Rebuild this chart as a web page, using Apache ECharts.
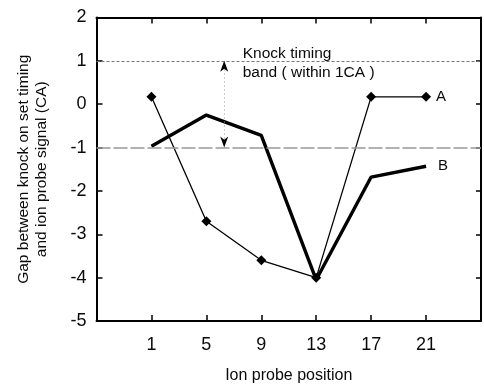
<!DOCTYPE html>
<html>
<head>
<meta charset="utf-8">
<script src="https://cdn.jsdelivr.net/npm/echarts@6/dist/echarts.min.js"></script>
<style>
  html, body { margin: 0; padding: 0; background: #fff; }
  #chart { width: 484px; height: 389px; }
</style>
</head>
<body>
<div id="chart"></div>
<script>
// Ion probe positions along the cylinder
const positions = [1, 5, 9, 13, 17, 21];
// Gap between knock on set timing and ion probe signal (CA)
const seriesA = [0.17, -2.7, -3.6, -4.0, 0.17, 0.17];
const seriesB = [-0.97, -0.25, -0.72, -4.05, -1.68, -1.43];
// Knock timing band limits (within 1 CA)
const bandLimits = [1, -1];
// Where the band arrow and its caption sit
const bandArrowX = 6.3;
const bandCaptionAt = [7.65, 0.95];
const bandCaption = 'Knock timing\nband ( within 1CA )';

const FONT = 'Liberation Sans';
const INK = '#0a0a0a';
const arrowUp = 'path://M5,0 L10,12 L5,8.5 L0,12 Z';
const arrowDown = 'path://M5,12 L10,0 L5,3.5 L0,0 Z';

const chart = echarts.init(document.getElementById('chart'), null, { renderer: 'canvas' });

const pairs = (ys) => positions.map((x, i) => [x, ys[i]]);

const frameLine = { onZero: false, lineStyle: { color: '#000', width: 2 } };

chart.setOption({
  animation: false,
  backgroundColor: '#fff',
  grid: { left: 96.5, right: 1, top: 17.5, bottom: 62, containLabel: false },
  xAxis: [
    {
      type: 'value', min: -3, max: 25, interval: 4,
      name: 'Ion probe position', nameLocation: 'middle', nameGap: 47,
      nameTextStyle: { fontFamily: FONT, fontSize: 16, color: INK },
      axisLine: frameLine,
      axisTick: { inside: true, length: 6, lineStyle: { color: '#000', width: 1.5 } },
      axisLabel: {
        margin: 15, fontFamily: FONT, fontSize: 18, color: INK,
        formatter: (v) => positions.includes(v) ? String(v) : ''
      },
      splitLine: { show: false }
    },
    {
      type: 'value', position: 'top', min: -3, max: 25, interval: 4,
      axisLine: frameLine,
      axisTick: { inside: true, length: 6, lineStyle: { color: '#000', width: 1.5 } },
      axisLabel: { show: false },
      splitLine: { show: false }
    }
  ],
  yAxis: [
    {
      type: 'value', min: -5, max: 2, interval: 1,
      name: 'Gap between knock on set timing\nand ion probe signal (CA)',
      nameLocation: 'middle', nameGap: 46,
      nameTextStyle: { fontFamily: FONT, fontSize: 15.5, lineHeight: 18, color: INK },
      axisLine: frameLine,
      axisTick: { inside: true, length: 6, lineStyle: { color: '#000', width: 1.5 } },
      axisLabel: { margin: 10, fontFamily: FONT, fontSize: 18, color: INK },
      splitLine: { show: false }
    },
    {
      type: 'value', position: 'right', min: -5, max: 2, interval: 1,
      axisLine: frameLine,
      axisTick: { inside: true, length: 5, lineStyle: { color: '#000', width: 1.5 } },
      axisLabel: { show: false },
      splitLine: { show: false }
    }
  ],
  series: [
    {
      name: 'A', type: 'line', data: pairs(seriesA),
      symbol: 'diamond', symbolSize: 10, showSymbol: true,
      itemStyle: { color: '#000' },
      lineStyle: { color: '#000', width: 1.3 },
      endLabel: {
        show: true, formatter: '{a}', distance: 10,
        fontFamily: FONT, fontSize: 15, color: INK
      },
      markLine: {
        silent: true, symbol: 'none', label: { show: false },
        data: [
          { yAxis: bandLimits[0], lineStyle: { color: '#777', width: 1, type: [3, 2] } },
          { yAxis: bandLimits[1], lineStyle: { color: '#999', width: 1.6, type: [14, 3] } }
        ]
      },
      markPoint: {
        silent: true, symbol: 'circle', symbolSize: 0,
        data: [{ coord: bandCaptionAt }],
        label: {
          show: true, position: 'right', distance: 0,
          formatter: bandCaption, align: 'left',
          fontFamily: FONT, fontSize: 15.5, lineHeight: 18.5, color: INK
        }
      }
    },
    {
      name: 'B', type: 'line', data: pairs(seriesB),
      symbol: 'none',
      lineStyle: { color: '#000', width: 3.4 },
      endLabel: {
        show: true, formatter: '{a}', distance: 12,
        fontFamily: FONT, fontSize: 15, color: INK
      },
      // dotted stem of the band indicator
      markLine: {
        silent: true, symbol: 'none', label: { show: false },
        lineStyle: { color: '#999', width: 1, type: [1, 3] },
        data: [[
          { coord: [bandArrowX, bandLimits[0] - 0.2] },
          { coord: [bandArrowX, bandLimits[1] + 0.2] }
        ]]
      },
      // arrow heads touching the band limits
      markPoint: {
        silent: true, symbolSize: [8, 11], label: { show: false },
        itemStyle: { color: '#000' },
        data: [
          { coord: [bandArrowX, bandLimits[0]], symbol: arrowUp, symbolOffset: [0, '50%'] },
          { coord: [bandArrowX, bandLimits[1]], symbol: arrowDown, symbolOffset: [0, '-50%'] }
        ]
      }
    }
  ]
});
</script>
</body>
</html>
